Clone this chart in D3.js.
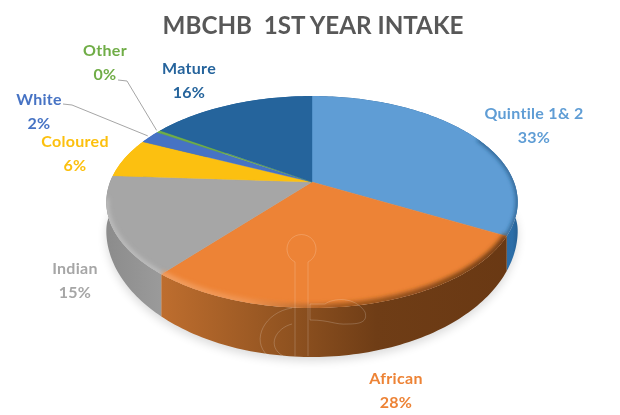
<!DOCTYPE html>
<html>
<head>
<meta charset="utf-8">
<script src="https://cdn.jsdelivr.net/npm/d3@7"></script>
<style>
html,body{margin:0;padding:0;background:#fff;overflow:hidden}
svg{display:block}
text{font-family:Lato,"Open Sans",sans-serif;text-anchor:middle}
</style>
</head>
<body>
<div id="chart"></div>
<script>
const titleText = "MBCHB  1ST YEAR INTAKE";
const categories = ["Quintile 1& 2","African","Indian","Coloured","White","Other","Mature"];
const values = [33,28,15,6,2,0.4,15.6];
const colors = ["#5f9dd5","#ed8336","#a6a6a6","#fcc010","#4673c4","#70ad47","#25649c"];
const labelColors = ["#5f9dd5","#ed8336","#a6a6a6","#fcc010","#4673c4","#70ad47","#25649c"];
const labelX = [534,396,75,75,39,105,189];
const labelY = [119,384,274,147,105,56,74];

const W=620,H=415, cx=312, cy=182, R=202, persp=-0.1887, yScale=102.2;
const rimRx=206, wallBase=28, wallCurve=21;
const svg=d3.select("#chart").append("svg").attr("width",W).attr("height",H);
const defs=svg.append("defs");
const blur=(id,s)=>defs.append("filter").attr("id",id)
  .attr("x","-20%").attr("y","-20%").attr("width","140%").attr("height","140%")
  .append("feGaussianBlur").attr("stdDeviation",s);
blur("soft",5); blur("bevel",2); blur("txt",0.3);

// perspective projection of a point on the unit disc, clockwise angle from 12 o'clock
const proj=(a,low=false)=>{
  const X=Math.sin(a),Y=-Math.cos(a),k=1+persp*Y;
  const x=cx+R*X/k, y=cy+yScale*Y/k;
  if(!low) return [x,y];
  const u=Math.min(1,Math.abs(x-cx)/rimRx);
  return [x, y+wallBase+wallCurve*Math.sqrt(1-u*u)];
};
const sample=(a0,a1,low=false)=>{
  const n=Math.max(2,Math.ceil((a1-a0)/0.02));
  return d3.range(n+1).map(i=>proj(a0+(a1-a0)*i/n,low));
};
const line=d3.line();
const arcs=d3.pie().sort(null).value(d=>d)(values);

const grad=(id,stops)=>{
  const g=defs.append("linearGradient").attr("id",id).attr("gradientUnits","userSpaceOnUse")
    .attr("x1",100).attr("x2",525).attr("y1",0).attr("y2",0);
  stops.forEach(([o,c])=>g.append("stop").attr("offset",o).attr("stop-color",c));
};
grad("side0",[[0,"#2a5f90"],[0.9,"#2a6ba6"],[0.97,"#2c6ea8"],[1,"#1f4e79"]]);
grad("side1",[[0,"#c8742f"],[0.15,"#bd6d2e"],[0.45,"#8f5220"],[0.65,"#6f3d16"],[1,"#693813"]]);
grad("side2",[[0,"#8a8a8a"],[0.14,"#9a9a9a"],[0.3,"#9a9a9a"]]);
grad("bev0",[[0,"#1f4e79"],[1,"#1f4e79"]]);
grad("bev1",[[0,"#f4a56a"],[0.35,"#ef9350"],[0.55,"#a45a20"],[1,"#6b3a14"]]);
grad("bev2",[[0,"#bcbcbc"],[0.3,"#c4c4c4"]]);

// soft shadow under the pie
const all=sample(0,2*Math.PI,true);
svg.append("path").attr("d",line(all)+"Z").attr("fill","#000").attr("opacity",0.14)
  .attr("filter","url(#soft)").attr("transform","translate(0,4)");

// side walls, back to front
const sides=arcs.map((d,i)=>({d,i})).sort((p,q)=>
  (-Math.cos((p.d.startAngle+p.d.endAngle)/2))-(-Math.cos((q.d.startAngle+q.d.endAngle)/2)));
svg.append("g").selectAll("path").data(sides).join("path")
  .attr("d",s=>{
    const top=sample(s.d.startAngle,s.d.endAngle,false);
    const bot=sample(s.d.startAngle,s.d.endAngle,true).reverse();
    return line(top.concat(bot))+"Z";
  })
  .attr("fill",s=>s.i<=2?`url(#side${s.i})`:colors[s.i]);

// top faces
const face=d=>line([[cx,cy]].concat(sample(d.startAngle,d.endAngle,false)))+"Z";
defs.append("clipPath").attr("id","topClip").append("path").attr("d",line(sample(0,2*Math.PI,false))+"Z");
const topG=svg.append("g").attr("clip-path","url(#topClip)");
topG.selectAll("path.face").data(arcs).join("path").attr("class","face")
  .attr("d",face).attr("fill",(d,i)=>colors[i])
  .attr("stroke",(d,i)=>colors[i]).attr("stroke-width",0.4);
// bevel along the near rim
const bevelWidth=[3,8,5];
topG.selectAll("path.bev").data(arcs.slice(0,3)).join("path").attr("class","bev")
  .attr("d",d=>line(sample(Math.max(d.startAngle,Math.PI*0.35),Math.min(d.endAngle,Math.PI*1.45),false)))
  .attr("fill","none").attr("stroke",(d,i)=>`url(#bev${i})`).attr("stroke-width",(d,i)=>bevelWidth[i])
  .attr("filter","url(#bevel)");

// faint watermark outline
svg.append("g").attr("fill","none").attr("stroke","#fff").attr("stroke-opacity",0.38).attr("stroke-width",0.5)
  .selectAll("path").data([
    "M295,262A14.5,14.5,0,1,1,308,262L308,356M295,262L295,356",
    "M310,304L325,304C333,298 355,296 365,312C368,322 360,324 348,324C335,325 330,320 310,320L310,304",
    "M292,308C265,312 250,340 268,356M292,324C276,328 266,346 283,356"
  ]).join("path").attr("d",d=>d);

// leader lines
const leaders=[{i:4,t:[[63,104],[72,105]]},{i:5,t:[[118,80],[127,81]]}];
svg.append("g").selectAll("path").data(leaders).join("path")
  .attr("d",l=>{
    const a=arcs[l.i], m=proj((a.startAngle+a.endAngle)/2,false);
    return line(l.t.concat([[m[0]-2,m[1]-1]]));
  }).attr("fill","none").attr("stroke","#a6a6a6").attr("stroke-width",1);

// title & labels
svg.append("text").attr("x",313).attr("y",34).attr("font-size",24.2).attr("font-weight",700)
  .attr("fill","#595959").style("white-space","pre").attr("filter","url(#txt)").text(titleText);
const lab=svg.append("g").attr("font-size",16).attr("font-weight",700).attr("letter-spacing",0.3).attr("filter","url(#txt)");
categories.forEach((c,i)=>{
  lab.append("text").attr("x",labelX[i]).attr("y",labelY[i]).attr("fill",labelColors[i]).text(c);
  lab.append("text").attr("x",labelX[i]).attr("y",labelY[i]+24).attr("fill",labelColors[i]).text(Math.round(values[i])+"%");
});
</script>
</body>
</html>
